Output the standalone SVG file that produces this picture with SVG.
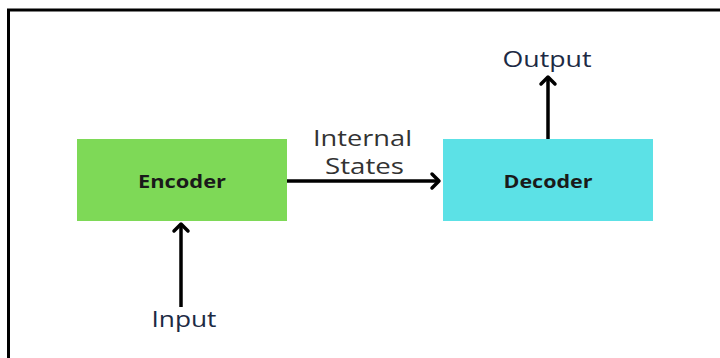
<svg xmlns="http://www.w3.org/2000/svg" width="720" height="358" viewBox="0 0 720 358">
  <style>
    .box-label { font-family: "Open Sans", "Liberation Sans", sans-serif; font-weight: bold; font-size: 18px; fill: #1a1a1a; text-anchor: middle; }
    .edge-label { font-family: "Open Sans", "Liberation Sans", sans-serif; font-size: 21px; fill: #333333; text-anchor: middle; }
    .io-label { font-family: "Open Sans", "Liberation Sans", sans-serif; font-size: 21px; fill: #1c2a44; text-anchor: middle; }
    .line { stroke: #000; stroke-width: 3.5; fill: none; }
    .head { stroke: #000; stroke-width: 3.5; fill: none; stroke-linecap: round; stroke-linejoin: round; }
  </style>
  <rect width="720" height="358" fill="#ffffff"/>
  <!-- outer frame: top and left edges only -->
  <path d="M8.5 358 V10 H720" fill="none" stroke="#000" stroke-width="3"/>

  <g id="encoder">
    <rect x="77" y="139" width="210" height="82" fill="#7ed957"/>
    <text class="box-label" x="182" y="188" textLength="88" lengthAdjust="spacingAndGlyphs">Encoder</text>
  </g>
  <g id="decoder">
    <rect x="443" y="139" width="210" height="82" fill="#5ce1e6"/>
    <text class="box-label" x="548" y="188" textLength="89" lengthAdjust="spacingAndGlyphs">Decoder</text>
  </g>
  <g id="input">
    <text class="io-label" x="184" y="327" textLength="65" lengthAdjust="spacingAndGlyphs">Input</text>
  </g>
  <g id="output">
    <text class="io-label" x="547" y="67" textLength="89" lengthAdjust="spacingAndGlyphs">Output</text>
  </g>

  <g id="connectors">
    <!-- input -> encoder -->
    <line class="line" x1="181" y1="307" x2="181" y2="225"/>
    <polyline class="head" points="174,231 181,224 188,231"/>
    <!-- encoder -> decoder -->
    <line class="line" x1="287" y1="181" x2="438" y2="181"/>
    <polyline class="head" points="432,174 439,181 432,188"/>
    <!-- decoder -> output -->
    <line class="line" x1="548" y1="139" x2="548" y2="78"/>
    <polyline class="head" points="541,84 548,77 555,84"/>
    <text class="edge-label" x="362.5" y="146" textLength="99" lengthAdjust="spacingAndGlyphs">Internal</text>
    <text class="edge-label" x="364.5" y="174" textLength="79" lengthAdjust="spacingAndGlyphs">States</text>
  </g>
</svg>
